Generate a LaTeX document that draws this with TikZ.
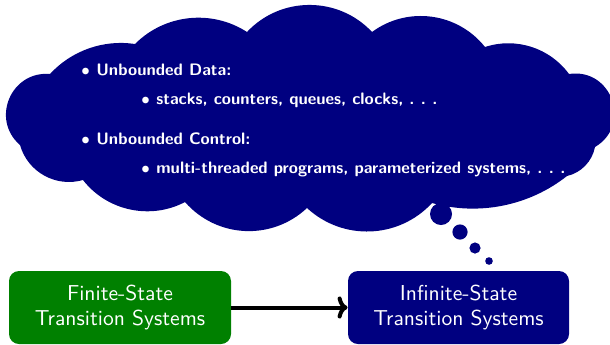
\documentclass[tikz,border=0pt]{standalone}
\usetikzlibrary{arrows.meta}
\definecolor{navyc}{RGB}{0,0,128}
\definecolor{greenc}{RGB}{0,128,0}
\tikzset{
  sysbox/.style={rounded corners=5pt,text=white,align=center,font=\sffamily\fontsize{10.8}{12.5}\selectfont,inner sep=0pt},
  cloudtxt/.style={text=white,font=\sffamily\bfseries\fontsize{8.3}{10}\selectfont,anchor=base west,inner sep=0pt},
  puff/.style 2 args={bend left=#1, looseness=#2},
}
\newcommand{\cbul}{$\bullet$\hspace{3.2pt}}
\newcommand{\mydots}{.\hspace{3.2pt}.\hspace{3.2pt}.}
\begin{document}
\begin{tikzpicture}[x=0.5pt,y=-0.5pt]
\useasboundingbox (0,0) rectangle (610,344);
% cloud outline (cusp points)
\coordinate (c1) at (20,145);
\coordinate (c2) at (50,74);
\coordinate (c3) at (135,44);
\coordinate (c4) at (247,32);
\coordinate (c5) at (372,32);
\coordinate (c6) at (485,47);
\coordinate (c7) at (569,74);
\coordinate (c8) at (595,147);
\coordinate (c9) at (567,176);
\coordinate (c10) at (432,203);
\coordinate (c11) at (307,208);
\coordinate (c12) at (185,202);
\coordinate (c13) at (83,180);
\fill[navyc] (c1) to[puff={72}{1.30}] (c2) to[puff={28}{0.904}] (c3)
  to[puff={39}{0.958}] (c4) to[puff={47}{1.012}] (c5) to[puff={44}{0.990}] (c6)
  to[puff={36}{0.941}] (c7) to[puff={79}{1.43}] (c8) to[puff={33}{0.926}] (c9)
  to[puff={27}{0.90}] (c10) to[puff={45}{1.0}] (c11) to[puff={46}{1.01}] (c12)
  to[puff={40}{0.96}] (c13) to[puff={45}{1.0}] (c1) -- cycle;
% thought bubbles
\fill[navyc] (441,214) circle[radius=5.5pt];
\fill[navyc] (460,232) circle[radius=3.8pt];
\fill[navyc] (475,248) circle[radius=2.8pt];
\fill[navyc] (489,261) circle[radius=1.9pt];
% cloud text
\node[cloudtxt] (l1) at (81,75) {\cbul Unbounded Data:};
\node[cloudtxt] (l2) at (141,104) {\cbul stacks, counters, queues, clocks, \mydots};
\node[cloudtxt] (l3) at (81,144) {\cbul Unbounded Control:};
\node[cloudtxt] (l4) at (141,173) {\cbul multi-threaded programs, parameterized systems, \mydots};
% boxes
\node[sysbox, fill=greenc, minimum width=111pt, minimum height=36.5pt] (fin) at (120,307.5) {Finite-State\\Transition Systems};
\node[sysbox, fill=navyc, minimum width=110.5pt, minimum height=36.5pt] (inf) at (458.5,307.5) {Infinite-State\\Transition Systems};
\draw[-{To[length=5pt,width=11pt]}, line width=2pt] (fin) -- (inf);
\end{tikzpicture}
\end{document}
